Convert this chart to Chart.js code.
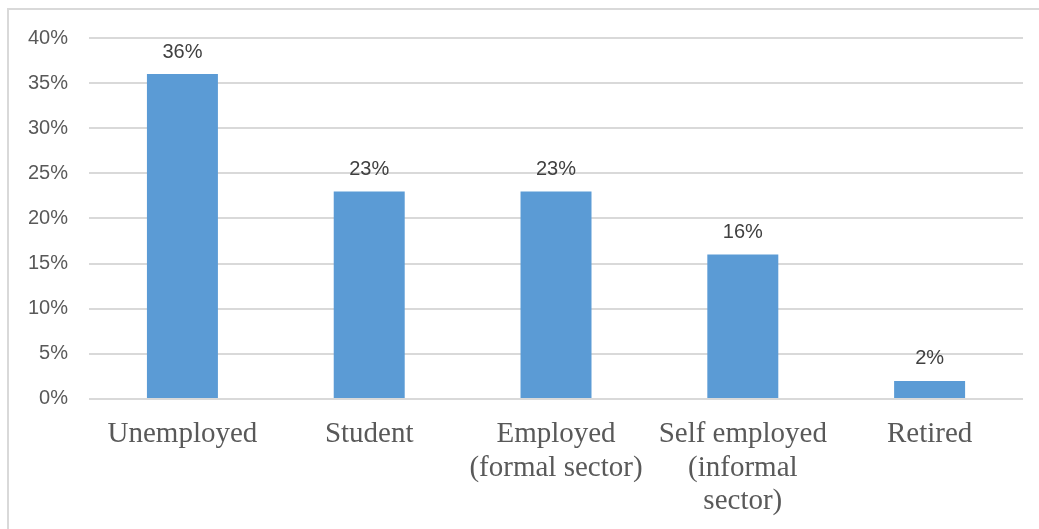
<!DOCTYPE html>
<html>
<head>
<meta charset="utf-8">
<script src="https://cdn.jsdelivr.net/npm/chart.js@4/dist/chart.umd.min.js"></script>
<style>
  html, body { margin: 0; padding: 0; background: #fff; }
  #wrap { position: relative; width: 1039px; height: 529px; }
  #frame {
    position: absolute; left: 7px; top: 8px; right: 0; bottom: 0;
    border-left: 2px solid #d9d9d9; border-top: 2px solid #d9d9d9;
  }
  canvas { position: absolute; left: 0; top: 0; }
</style>
</head>
<body>
<div id="wrap">
  <div id="frame"></div>
  <canvas id="myChart" width="1039" height="529"></canvas>
</div>
<script>
// occupation groups and their share
var groups = [
  "Unemployed",
  "Student",
  ["Employed", "(formal sector)"],
  ["Self employed", "(informal", "sector)"],
  "Retired"
];
var shares = [36, 23, 23, 16, 2];
var yTicks = [0, 5, 10, 15, 20, 25, 30, 35, 40];

// writes the percentage above each bar
var barLabels = {
  id: "barLabels",
  afterDatasetsDraw: function (chart) {
    var c = chart.ctx;
    var meta = chart.getDatasetMeta(0);
    c.save();
    c.font = "20px 'Liberation Sans', Arial, sans-serif";
    c.fillStyle = "#404040";
    c.textAlign = "center";
    c.textBaseline = "bottom";
    meta.data.forEach(function (bar, i) {
      c.fillText(shares[i] + "%", bar.x, bar.y - 12);
    });
    c.restore();
  }
};

var ctx = document.getElementById("myChart");
var myChart = new Chart(ctx, {
  type: "bar",
  data: {
    labels: groups,
    datasets: [
      {
        data: shares,
        backgroundColor: "#5b9bd5",
        barPercentage: 0.38,
        categoryPercentage: 1
      }
    ]
  },
  options: {
    responsive: false,
    animation: false,
    layout: { padding: { left: 7, right: 16, top: 38, bottom: 0 } },
    plugins: {
      legend: { display: false },
      tooltip: { enabled: false }
    },
    scales: {
      x: {
        grid: { display: false },
        border: { display: false },
        ticks: {
          color: "#595959",
          padding: 11,
          maxRotation: 0,
          autoSkip: false,
          font: { family: "'Liberation Serif', 'Times New Roman', serif", size: 29, lineHeight: 1.15 }
        }
      },
      y: {
        min: 0,
        max: 40,
        afterBuildTicks: function (axis) {
          axis.ticks = yTicks.map(function (v) { return { value: v }; });
        },
        grid: { color: "#d9d9d9", lineWidth: 2, drawTicks: false },
        border: { display: false },
        ticks: {
          color: "#595959",
          padding: 21,
          font: { family: "'Liberation Sans', Arial, sans-serif", size: 20 },
          callback: function (v) { return v + "%"; }
        }
      }
    }
  },
  plugins: [barLabels]
});
</script>
</body>
</html>
